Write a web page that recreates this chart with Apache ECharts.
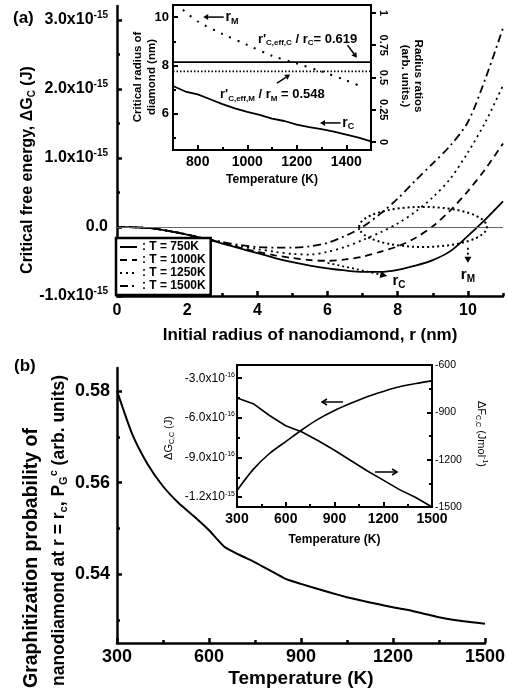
<!DOCTYPE html>
<html>
<head>
<meta charset="utf-8">
<script src="https://cdn.jsdelivr.net/npm/echarts@6/dist/echarts.min.js"></script>
<style>html,body{margin:0;padding:0;background:#fff}#c{width:508px;height:698px}</style>
</head>
<body>
<div id="c"></div>
<script>
const FONT = '"Liberation Sans", Arial, Helvetica, sans-serif'

// (a) main: critical free energy vs initial radius. dG values in units of 1e-15 J
const rA = [0, 0.5, 1, 1.5, 2, 2.5, 3, 3.5, 4, 4.5, 5, 5.5, 6, 6.5, 7, 7.5, 8, 8.5, 9, 9.5, 10, 10.5, 11]
const dG750 = [0, -0.005, -0.02, -0.06, -0.11, -0.17, -0.24, -0.31, -0.38, -0.45, -0.51, -0.56, -0.60, -0.63, -0.65, -0.65, -0.62, -0.56, -0.48, -0.35, -0.13, 0.11, 0.37]
const dG1000 = [0, -0.005, -0.02, -0.06, -0.11, -0.17, -0.23, -0.30, -0.36, -0.41, -0.45, -0.48, -0.49, -0.47, -0.43, -0.36, -0.28, -0.16, 0.01, 0.24, 0.52, 0.84, 1.21]
const dG1250 = [0, -0.005, -0.02, -0.06, -0.11, -0.17, -0.22, -0.28, -0.32, -0.36, -0.39, -0.40, -0.36, -0.29, -0.19, -0.08, 0.05, 0.22, 0.43, 0.70, 1.08, 1.52, 2.05]
const dG1500 = [0, -0.005, -0.02, -0.06, -0.11, -0.17, -0.22, -0.26, -0.29, -0.30, -0.30, -0.28, -0.23, -0.13, 0.0, 0.19, 0.41, 0.67, 0.92, 1.18, 1.52, 2.15, 2.88]
const aXTicks = [0, 2, 4, 6, 8, 10]
const aXMinor = [1, 3, 5, 7, 9, 11]
const aYTicks = [-1, 0, 1, 2, 3]
const aYMinor = [-0.5, 0.5, 1.5, 2.5]

// (a) inset: critical radii (nm) and radius ratios vs temperature
const tRC = [700, 750, 800, 850, 900, 950, 1000, 1050, 1100, 1150, 1200, 1250, 1300, 1350, 1400, 1450, 1500]
const rC = [7.15, 6.92, 6.80, 6.60, 6.40, 6.22, 6.08, 5.95, 5.80, 5.70, 5.55, 5.45, 5.36, 5.26, 5.14, 5.01, 4.86]
const tRM = [740, 800, 900, 1000, 1100, 1200, 1300, 1400, 1460]
const rM = [10.3, 9.82, 9.3, 8.85, 8.4, 8.08, 7.75, 7.38, 7.13]
const tRatio = [700, 1500]
const ratioC = [0.619, 0.619]
const ratioM = [0.548, 0.548]
const iaXTicks = [800, 1000, 1200, 1400]
const iaXMinor = [700, 900, 1100, 1300, 1500]
const iaYTicks = [6, 8, 10]
const iaYMinor = [5, 7, 9]
const iaRTicks = [0, 0.25, 0.5, 0.75, 1]

// (b) main: graphitization probability vs temperature
const tB = [300, 350, 400, 450, 500, 550, 600, 650, 700, 750, 800, 850, 900, 950, 1000, 1050, 1100, 1150, 1200, 1250, 1300, 1350, 1400, 1450, 1500]
const pG = [0.5800, 0.5705, 0.5640, 0.5592, 0.5556, 0.5527, 0.5496, 0.5460, 0.5442, 0.5426, 0.5408, 0.5390, 0.5379, 0.5369, 0.5359, 0.5350, 0.5342, 0.5335, 0.5328, 0.5322, 0.5314, 0.5306, 0.5300, 0.5296, 0.5292]
const bXTicks = [300, 600, 900, 1200, 1500]
const bXMinor = [450, 750, 1050, 1350]
const bYTicks = [0.54, 0.56, 0.58]
const bYMinor = [0.53, 0.55, 0.57]

// (b) inset: dG_C,C (1e-15 J) and dF_C,C (J/mol) vs temperature
const tBi = [300, 400, 500, 600, 700, 800, 900, 1000, 1100, 1200, 1300, 1400, 1500]
const dGcc = [-1.15, -0.99, -0.87, -0.78, -0.69, -0.61, -0.545, -0.49, -0.44, -0.40, -0.365, -0.34, -0.32]
const dFcc = [-809, -845, -920, -985, -1025, -1080, -1140, -1205, -1270, -1330, -1390, -1440, -1500]
const ibYTicks = [-1.2, -0.9, -0.6, -0.3]
const ibYMinor = [-1.05, -0.75, -0.45]
const ibRTicks = [-1500, -1200, -900, -600]
const ibRMinor = [-1350, -1050, -750]

const pairs = (xs, ys) => xs.map((x, i) => [x, ys[i]])

function rich(fs, w) {
  return {
    m: { fontSize: fs, fontWeight: w, fontFamily: FONT, color: '#000' },
    s: { fontSize: Math.round(fs * 0.62), fontWeight: w, fontFamily: FONT, color: '#000', padding: [0, 0, Math.round(fs * 0.6), 0] },
    b: { fontSize: Math.round(fs * 0.65), fontWeight: w, fontFamily: FONT, color: '#000', padding: [Math.round(fs * 0.55), 0, 0, 0] },
  }
}

function axis(o) {
  const w = o.weight || 'bold'
  return {
    type: 'value', gridIndex: o.grid, position: o.pos, min: o.min, max: o.max,
    axisLine: { show: true, onZero: false, lineStyle: { color: '#000', width: o.lw || 2 } },
    axisTick: { show: true, inside: o.out ? false : true, length: 5, customValues: o.ticks, lineStyle: { color: '#000', width: o.lw || 2 } },
    axisLabel: {
      show: true, customValues: o.ticks, formatter: o.fmt, margin: o.margin, rotate: o.rotate || 0,
      color: '#000', fontFamily: FONT, fontWeight: w, fontSize: o.fs, rich: rich(o.fs, w),
    },
    splitLine: { show: false },
    name: o.name || '', nameLocation: 'middle', nameGap: o.nameGap || 0,
    nameTextStyle: { color: '#000', fontFamily: FONT, fontWeight: 'bold', fontSize: o.nameFs || 12 },
  }
}
function minor(o) {
  return {
    type: 'value', gridIndex: o.grid, position: o.pos, min: o.min, max: o.max,
    axisLine: { show: false, onZero: false },
    axisTick: { show: true, inside: true, length: 3, customValues: o.ticks, lineStyle: { color: '#000', width: o.lw || 2 } },
    axisLabel: { show: false }, splitLine: { show: false },
  }
}

const sci = (exp) => (v) => v === 0 ? '{m|0.0}' : '{m|' + v.toFixed(1) + 'x10}{s|' + exp + '}'
const sciB = (v) => Math.abs(v) < 1
  ? '{m|' + (v * 10).toFixed(1) + 'x10}{s|-16}'
  : '{m|' + v.toFixed(1) + 'x10}{s|-15}'

const xAxis = [
  axis({ grid: 0, pos: 'bottom', min: 0, max: 11, ticks: aXTicks, fmt: (v) => String(v), fs: 16, margin: 7, lw: 2.5,
    name: 'Initial radius of nanodiamond, r (nm)', nameGap: 31, nameFs: 17 }),
  minor({ grid: 0, pos: 'bottom', min: 0, max: 11, ticks: aXMinor, lw: 2.5 }),
  axis({ grid: 1, pos: 'bottom', min: 700, max: 1500, ticks: iaXTicks, fmt: (v) => String(v), fs: 14, margin: 5,
    name: 'Temperature (K)', nameGap: 24, nameFs: 12 }),
  minor({ grid: 1, pos: 'bottom', min: 700, max: 1500, ticks: iaXMinor }),
  axis({ grid: 2, pos: 'bottom', min: 300, max: 1500, ticks: bXTicks, fmt: (v) => String(v), fs: 18, margin: 5, lw: 2.5,
    name: 'Temperature (K)', nameGap: 26, nameFs: 19 }),
  minor({ grid: 2, pos: 'bottom', min: 300, max: 1500, ticks: bXMinor, lw: 2.5 }),
  axis({ grid: 3, pos: 'bottom', min: 300, max: 1500, ticks: bXTicks, fmt: (v) => String(v), fs: 14, margin: 5,
    name: 'Temperature (K)', nameGap: 27, nameFs: 12 }),
  minor({ grid: 3, pos: 'bottom', min: 300, max: 1500, ticks: bXMinor }),
]

const yAxis = [
  axis({ grid: 0, pos: 'left', min: -1, max: 3.2, ticks: aYTicks, fmt: sci('-15'), fs: 16, margin: 9, lw: 2.5 }),
  minor({ grid: 0, pos: 'left', min: -1, max: 3.2, ticks: aYMinor, lw: 2.5 }),
  axis({ grid: 1, pos: 'left', min: 4.5, max: 10.5, ticks: iaYTicks, fmt: (v) => String(v), fs: 13, margin: 4 }),
  minor({ grid: 1, pos: 'left', min: 4.5, max: 10.5, ticks: iaYMinor }),
  axis({ grid: 1, pos: 'right', min: -0.062, max: 1.062, ticks: iaRTicks, out: true, rotate: -90,
    fmt: (v) => String(v), fs: 11, margin: 7 }),
  axis({ grid: 2, pos: 'left', min: 0.525, max: 0.585, ticks: bYTicks, fmt: (v) => v.toFixed(2), fs: 18, margin: 7, lw: 2.5 }),
  minor({ grid: 2, pos: 'left', min: 0.525, max: 0.585, ticks: bYMinor, lw: 2.5 }),
  axis({ grid: 3, pos: 'left', min: -1.275, max: -0.2, ticks: ibYTicks, fmt: sciB, fs: 12, margin: 2, weight: 'normal' }),
  minor({ grid: 3, pos: 'left', min: -1.275, max: -0.2, ticks: ibYMinor }),
  axis({ grid: 3, pos: 'right', min: -1500, max: -600, ticks: ibRTicks, fmt: (v) => String(v), fs: 10.5, margin: 3, weight: 'normal' }),
  minor({ grid: 3, pos: 'right', min: -1500, max: -600, ticks: ibRMinor }),
]

const line = (name, xi, yi, data, style, extra) => Object.assign({
  name, type: 'line', xAxisIndex: xi, yAxisIndex: yi, data, symbol: 'none', showSymbol: false,
  lineStyle: Object.assign({ color: '#000', width: 1.8, type: 'solid' }, style),
  itemStyle: { color: '#000' }, animation: false,
}, extra || {})

const series = [
  line('750K', 0, 0, pairs(rA, dG750), {}, {
    smooth: 0.3,
    markLine: { silent: true, symbol: 'none', label: { show: false }, animation: false,
      lineStyle: { color: '#666', width: 1, type: 'solid' }, data: [{ yAxis: 0 }] },
  }),
  line('1000K', 0, 0, pairs(rA, dG1000), { type: [7, 5] }, { smooth: 0.3 }),
  line('1250K', 0, 0, pairs(rA, dG1250), { type: [2, 4] }, { smooth: 0.3 }),
  line('1500K', 0, 0, pairs(rA, dG1500), { type: [8, 4, 2, 4] }, { smooth: 0.3 }),
  line('rC', 2, 2, pairs(tRC, rC), { width: 1.8 }),
  line('rM', 2, 2, pairs(tRM, rM), { width: 2, type: [2, 7] }, { smooth: 0.3 }),
  line('ratioC', 2, 4, pairs(tRatio, ratioC), { width: 1.8 }),
  line('ratioM', 2, 4, pairs(tRatio, ratioM), { width: 1.8, type: [1.5, 2] }),
  line('pG', 4, 5, pairs(tB, pG), { width: 2 }, { smooth: 0.2 }),
  line('dGcc', 6, 7, pairs(tBi, dGcc), { width: 1.6 }, { smooth: 0.3 }),
  line('dFcc', 6, 9, pairs(tBi, dFcc), { width: 1.6 }),
]

const option = {
  animation: false,
  backgroundColor: '#fff',
  textStyle: { fontFamily: FONT },
  grid: [
    { left: 117, top: 6, width: 386, height: 290 },
    { left: 173, top: 5, width: 198, height: 145, show: true, backgroundColor: '#fff', borderColor: '#000', borderWidth: 2 },
    { left: 117, top: 368, width: 370, height: 275 },
    { left: 237, top: 365, width: 195, height: 142, show: true, backgroundColor: '#fff', borderColor: '#000', borderWidth: 2 },
  ],
  legend: {
    data: ['750K', '1000K', '1250K', '1500K'], orient: 'vertical', left: 116, top: 238,
    itemWidth: 17, itemHeight: 10, itemGap: 1, padding: [3, 5, 3, 3],
    backgroundColor: '#fff', borderColor: '#000', borderWidth: 2.5, borderRadius: 0,
    itemStyle: { opacity: 0 },
    formatter: (n) => ': T = ' + n, selectedMode: false,
    textStyle: { fontFamily: FONT, fontWeight: 'bold', fontSize: 12, color: '#000' },
  },
  xAxis, yAxis, series,
}

const chart = echarts.init(document.getElementById('c'))
chart.setOption(option)

// annotations placed in data coordinates
const A = (x, y) => chart.convertToPixel({ xAxisIndex: 0, yAxisIndex: 0 }, [x, y])
const IA = (x, y) => chart.convertToPixel({ xAxisIndex: 2, yAxisIndex: 2 }, [x, y])
const IB = (x, y) => chart.convertToPixel({ xAxisIndex: 6, yAxisIndex: 7 }, [x, y])

function arrow(p0, p1, o) {
  o = o || {}
  const dx = p1[0] - p0[0], dy = p1[1] - p0[1], L = Math.hypot(dx, dy)
  const ux = dx / L, uy = dy / L, h = o.head || 6, w = o.hw || 3
  const bx = p1[0] - ux * h, by = p1[1] - uy * h
  const pts = [[bx - uy * w, by + ux * w], [p1[0], p1[1]], [bx + uy * w, by - ux * w]]
  const end = o.open ? p1 : [bx, by]
  return [
    { type: 'line', shape: { x1: p0[0], y1: p0[1], x2: end[0], y2: end[1] },
      style: { stroke: '#000', lineWidth: o.lw || 1.5, lineDash: o.dash || null } },
    o.open
      ? { type: 'polyline', shape: { points: pts }, style: { stroke: '#000', lineWidth: o.lw || 1.5, fill: 'none' } }
      : { type: 'polygon', shape: { points: pts }, style: { fill: '#000' } },
  ]
}
function label(p, text, fs, o) {
  o = o || {}
  const w = o.weight || 'bold'
  return { type: 'text', x: p[0], y: p[1], rotation: o.rot || 0, z: 10,
    style: { text, rich: rich(fs, w), fontSize: fs, fontWeight: w, fontFamily: FONT, fill: '#000',
      align: o.align || 'left', verticalAlign: 'middle', lineHeight: o.lh } }
}

const ec = A(8.72, 0)
const graphic = [
  label([13, 18], '(a)', 17),
  label([14, 366], '(b)', 17),
  label([28, 170], '{m|Critical free energy, ΔG}{b|C}{m| (J)}', 16, { align: 'center', rot: Math.PI / 2 }),
  label([32, 688], 'Graphitization probability of', 19.5, { rot: Math.PI / 2 }),
  label([59, 686], '{m|nanodiamond at r = r}{b|c}{m|, P}{b|G}{s|c}{m| (arb. units)}', 17.5, { rot: Math.PI / 2 }),
  label([145, 77], 'Critical radius of\ndiamond (nm)', 11.5, { align: 'center', rot: Math.PI / 2, lh: 14 }),
  label([412, 76], 'Radius ratios\n(arb. units.)', 11.5, { align: 'center', rot: -Math.PI / 2, lh: 13 }),
  label([169, 438], '{m|ΔG}{b|C,C}{m| (J)}', 11, { align: 'center', rot: Math.PI / 2, weight: 'normal' }),
  label([481, 434], '{m|ΔF}{b|C,C}{m| (Jmol}{s|-1}{m|)}', 11, { align: 'center', rot: -Math.PI / 2, weight: 'normal' }),
  // (a) main annotations
  { type: 'ellipse', z: 10, shape: { cx: ec[0], cy: ec[1], rx: A(8.72 + 1.82, 0)[0] - ec[0], ry: ec[1] - A(8.72, 0.29)[1] },
    style: { stroke: '#000', fill: 'none', lineWidth: 2, lineDash: [2, 3] } },
  ...arrow(A(6.0, -0.52), A(7.7, -0.71), { dash: [2, 3], lw: 1.8, head: 7, hw: 3.5 }),
  label(A(7.85, -0.78), '{m|r}{b|C}', 15),
  ...arrow(A(10.0, -0.3), A(10.0, -0.52), { dash: [2, 3], lw: 1.8, head: 6, hw: 3.5 }),
  label(A(10.0, -0.70), '{m|r}{b|M}', 15, { align: 'center' }),
  // (a) inset annotations
  ...arrow(IA(905, 10.0), IA(822, 10.0), { lw: 1.5, head: 5, hw: 3 }),
  label(IA(912, 10.0), '{m|r}{b|M}', 14),
  label(IA(1043, 9.08), "{m|r'}{b|C,eff,C}{m| / r}{b|C}{m|= 0.619}", 13),
  ...arrow(IA(1405, 8.84), IA(1443, 8.32), { lw: 1.5, head: 5, hw: 3 }),
  ...arrow(IA(1120, 7.27), IA(1173, 7.62), { lw: 1.5, head: 5, hw: 3 }),
  label(IA(890, 6.78), "{m|r'}{b|C,eff,M}{m| / r}{b|M}{m| = 0.548}", 13),
  ...arrow(IA(1377, 5.62), IA(1294, 5.62), { lw: 1.5, head: 5, hw: 3 }),
  label(IA(1384, 5.62), '{m|r}{b|C}', 14),
  // (b) inset arrows
  ...arrow(IB(952, -0.48), IB(823, -0.48), { lw: 1.5, head: 5, hw: 3, open: true }),
  ...arrow(IB(1149, -1.01), IB(1285, -1.01), { lw: 1.5, head: 5, hw: 3, open: true }),
]
chart.setOption({ graphic })
</script>
</body>
</html>
